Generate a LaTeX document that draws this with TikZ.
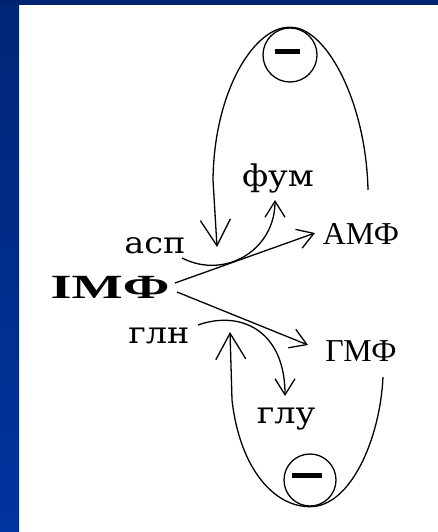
\documentclass[tikz,border=0pt]{standalone}
\usepackage{fontspec}
\setmainfont{Liberation Serif}
\newfontfamily\slabf{DejaVu Serif}
\usetikzlibrary{arrows.meta}
\definecolor{navytop}{RGB}{0,36,112}
\definecolor{navyleftA}{RGB}{0,38,118}
\definecolor{navyleftB}{RGB}{0,52,160}
\begin{document}
\begin{tikzpicture}[x=1bp,y=-1bp,
  ln/.style={line width=1.3bp,black},
  bigbarb/.style={-{Straight Barb[length=26bp,width=30bp]}},
  smallbarb/.style={-{Straight Barb[length=16bp,width=20bp]}},
  mono/.style={font=\slabf\fontsize{30}{30}\selectfont, inner sep=0pt, anchor=base},
  serif/.style={font=\fontsize{32}{32}\selectfont, inner sep=0pt, anchor=base},
  ring/.style={circle,draw,line width=1.3bp,inner sep=0pt},
  minusbar/.style={line width=5bp}
  ]
\useasboundingbox (0,0) rectangle (438,532);
\fill[white] (0,0) rectangle (438,532);
\shade[top color=navyleftA,bottom color=navyleftB] (0,0) rectangle (19,532);
\fill[navytop] (0,0) rectangle (438,5);

% nodes
\node[serif,font=\fontsize{34}{34}\selectfont] (imf) at (110,298) {\scalebox{1.6}[1]{\bfseries IMФ}};
\node[serif] (amf) at (361,244) {АМФ};
\node[serif] (gmf) at (361,361) {ГМФ};
\node[mono] (asp) at (155,253) {\scalebox{1.12}[1]{асп}};
\node[mono] (fum) at (278,187) {\scalebox{1.12}[1]{фум}};
\node[mono] (gln) at (159,343) {\scalebox{1.12}[1]{глн}};
\node[mono] (glu) at (286,423) {\scalebox{1.12}[1]{глу}};
\node[ring,minimum size=54bp] (topc) at (290,55) {};
\node[ring,minimum size=52bp] (botc) at (310,480) {};
\draw[minusbar] ([shift={(-15,-3)}]topc.center) -- ([shift={(10,-3)}]topc.center);
\draw[minusbar] ([shift={(-18,-5)}]botc.center) -- ([shift={(12,-5)}]botc.center);

% connector ends
\coordinate (imfA) at (175,283);
\coordinate (imfG) at (177,292);
\coordinate (amfIn) at (315,233);
\coordinate (gmfIn) at (308,345);
\coordinate (aspOut) at (182,258);
\coordinate (fumIn) at (275,200);
\coordinate (glnOut) at (198,325);
\coordinate (gluIn) at (285,396);
\coordinate (topStart) at (368,190);
\coordinate (topTip) at (217,247);
\coordinate (botStart) at (383,377);
\coordinate (botTip) at (230,332);

% main arrows
\draw[ln,smallbarb] (imfA) -- (amfIn);
\draw[ln,smallbarb] (imfG) -- (gmfIn);
\draw[ln,smallbarb] (aspOut) .. controls (225,280) and (275,250) .. (fumIn);
\draw[ln,smallbarb] (glnOut) .. controls (240,310) and (285,330) .. (gluIn);

% feedback loops
\draw[ln,bigbarb] (topStart) .. controls (366,100) and (325,26) .. (topc.north)
  .. controls (255,26) and (214,90) .. (213,180) -- (topTip);
\draw[ln,bigbarb] (botStart) .. controls (380,440) and (350,507) .. (botc.south)
  .. controls (275,507) and (240,470) .. (232,400) -- (botTip);
\end{tikzpicture}
\end{document}
